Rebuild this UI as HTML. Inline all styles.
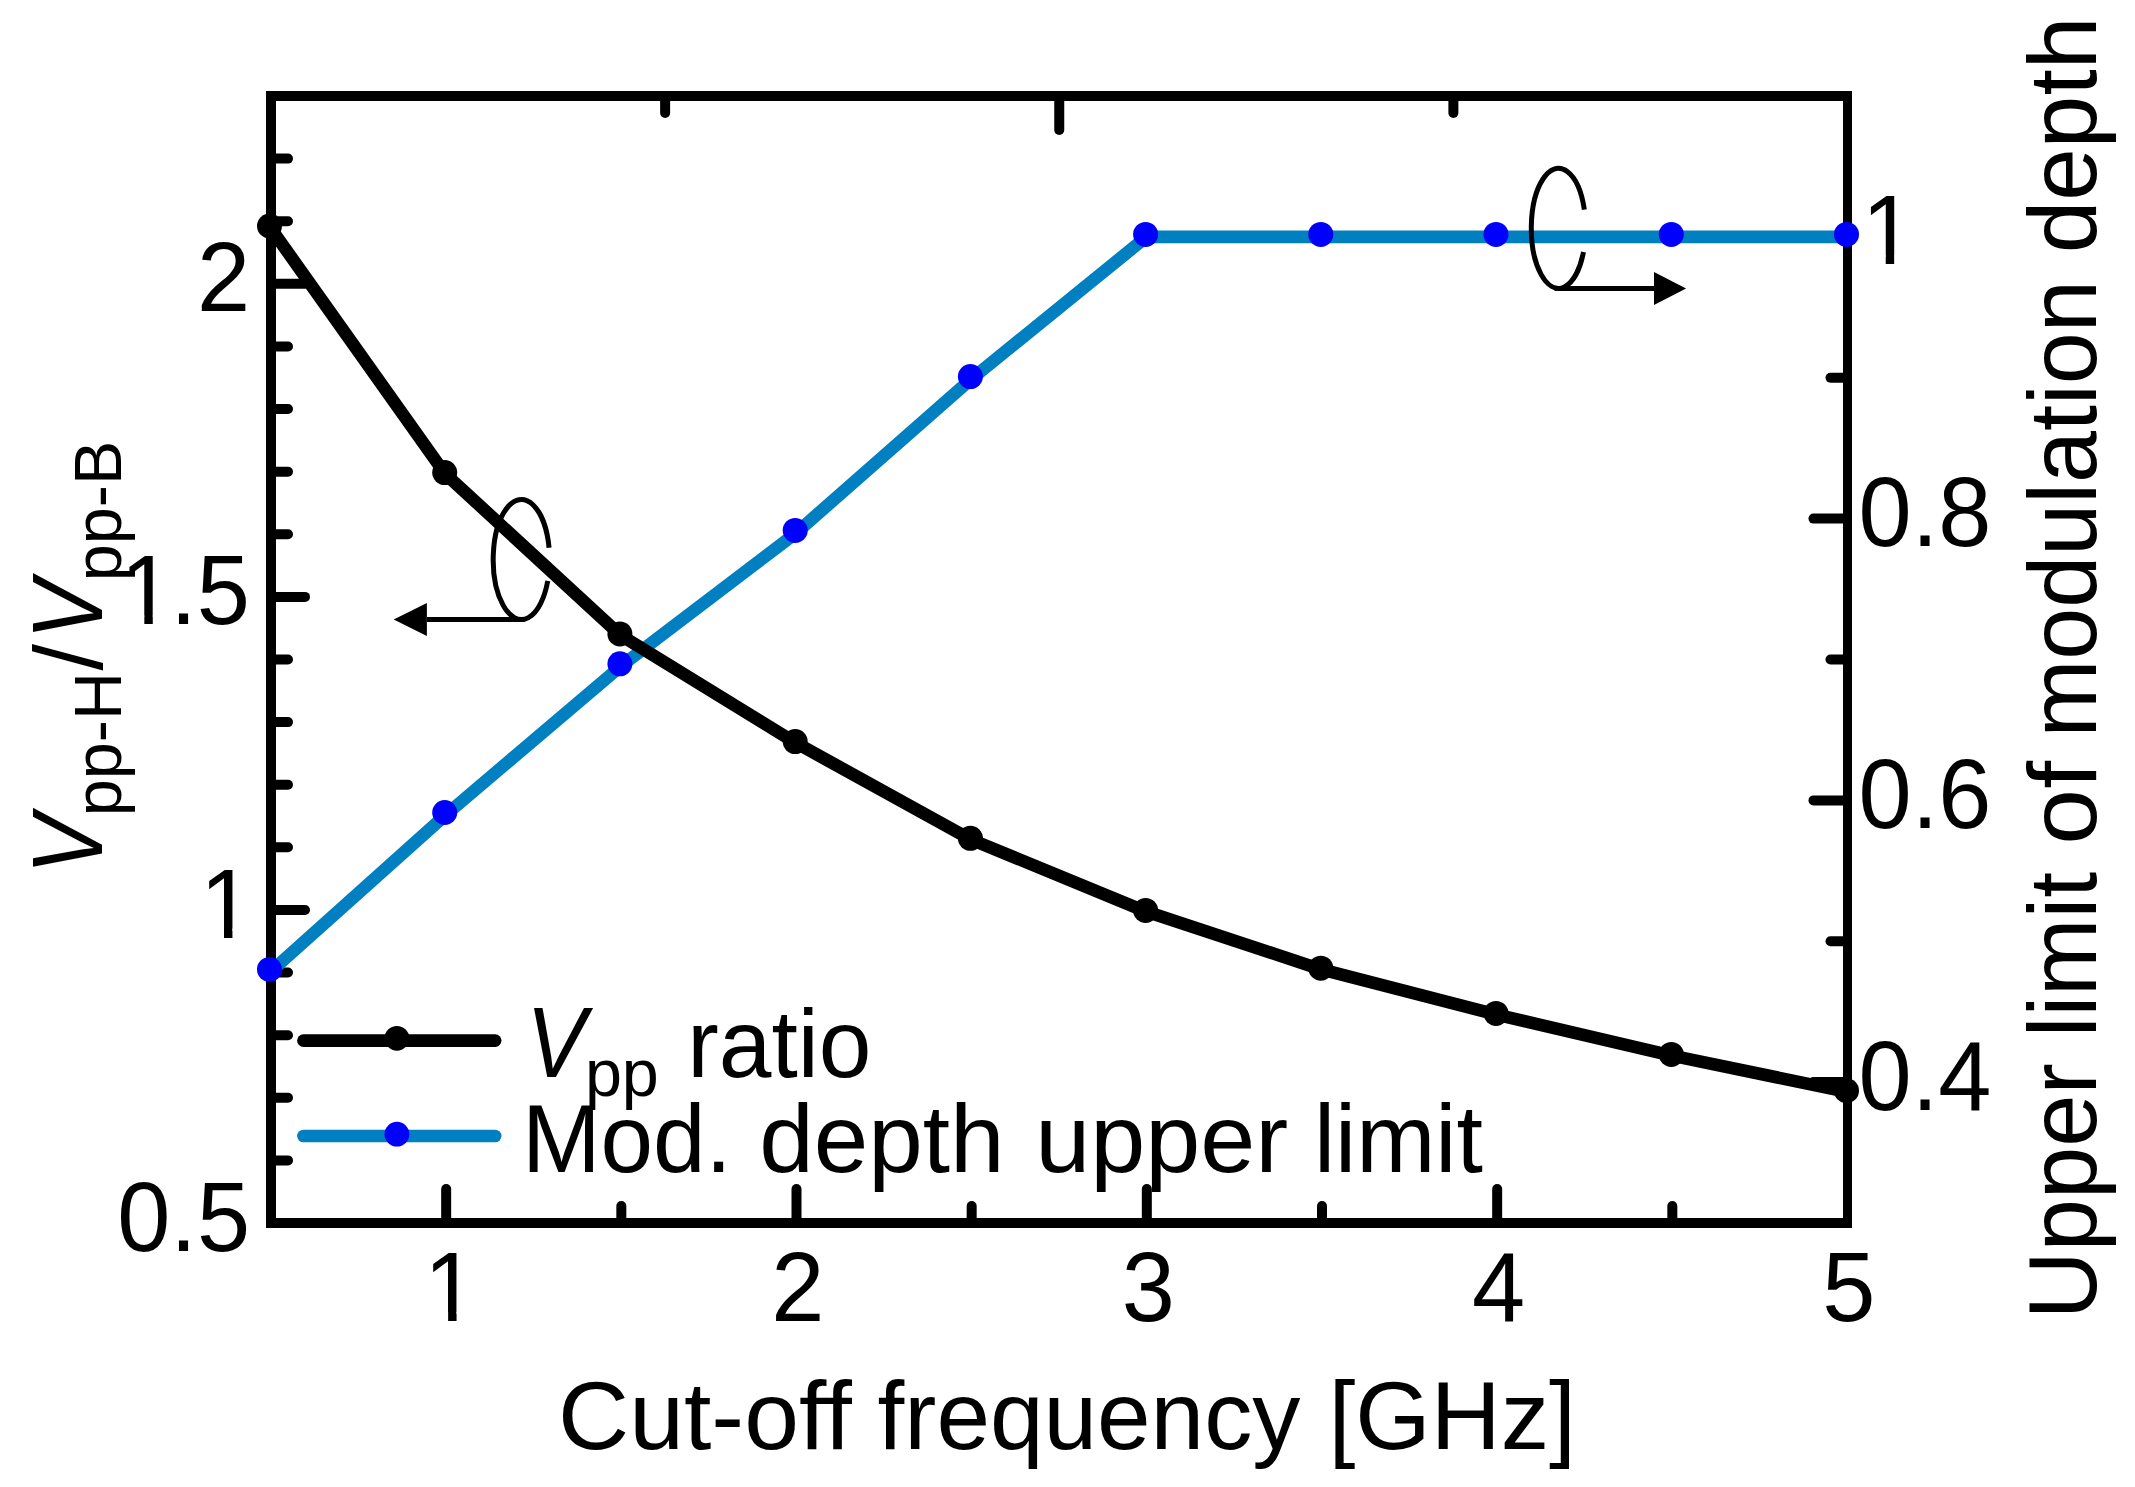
<!DOCTYPE html>
<html lang="en"><head><meta charset="utf-8"><title>Cut-off frequency chart</title>
<style>html,body{margin:0;padding:0;background:#fff;}body{width:2135px;height:1487px;overflow:hidden;}svg{display:block;}text{font-family:"Liberation Sans",Arial,Helvetica,sans-serif;fill:#000;}.i{font-style:italic;}</style>
</head><body>
<svg width="2135" height="1487" viewBox="0 0 2135 1487">
<rect x="0" y="0" width="2135" height="1487" fill="#ffffff"/>
<g stroke="#000" stroke-width="10" fill="none" stroke-linecap="round" stroke-linejoin="miter">
<g stroke-linecap="butt">
<line x1="271.00" y1="91.00" x2="271.00" y2="1228.00"/>
<line x1="266.00" y1="96.00" x2="1852.00" y2="96.00"/>
<line x1="266.00" y1="1223.00" x2="1852.00" y2="1223.00"/>
<line x1="1847.50" y1="91.00" x2="1847.50" y2="1228.00" stroke-width="9"/>
</g>
<line x1="272.00" y1="1160.39" x2="288.00" y2="1160.39"/>
<line x1="272.00" y1="1097.78" x2="288.00" y2="1097.78"/>
<line x1="272.00" y1="1035.17" x2="288.00" y2="1035.17"/>
<line x1="272.00" y1="972.56" x2="288.00" y2="972.56"/>
<line x1="272.00" y1="909.94" x2="305.00" y2="909.94"/>
<line x1="272.00" y1="847.33" x2="288.00" y2="847.33"/>
<line x1="272.00" y1="784.72" x2="288.00" y2="784.72"/>
<line x1="272.00" y1="722.11" x2="288.00" y2="722.11"/>
<line x1="272.00" y1="659.50" x2="288.00" y2="659.50"/>
<line x1="272.00" y1="596.89" x2="305.00" y2="596.89"/>
<line x1="272.00" y1="534.28" x2="288.00" y2="534.28"/>
<line x1="272.00" y1="471.67" x2="288.00" y2="471.67"/>
<line x1="272.00" y1="409.06" x2="288.00" y2="409.06"/>
<line x1="272.00" y1="346.44" x2="288.00" y2="346.44"/>
<line x1="272.00" y1="283.83" x2="305.00" y2="283.83"/>
<line x1="272.00" y1="221.22" x2="288.00" y2="221.22"/>
<line x1="272.00" y1="158.61" x2="288.00" y2="158.61"/>
<line x1="1846.50" y1="1082.12" x2="1813.50" y2="1082.12"/>
<line x1="1846.50" y1="941.25" x2="1830.50" y2="941.25"/>
<line x1="1846.50" y1="800.38" x2="1813.50" y2="800.38"/>
<line x1="1846.50" y1="659.50" x2="1830.50" y2="659.50"/>
<line x1="1846.50" y1="518.62" x2="1813.50" y2="518.62"/>
<line x1="1846.50" y1="377.75" x2="1830.50" y2="377.75"/>
<line x1="1846.50" y1="236.88" x2="1813.50" y2="236.88"/>
<line x1="446.17" y1="1222.00" x2="446.17" y2="1189.00"/>
<line x1="621.33" y1="1222.00" x2="621.33" y2="1206.00"/>
<line x1="796.50" y1="1222.00" x2="796.50" y2="1189.00"/>
<line x1="971.67" y1="1222.00" x2="971.67" y2="1206.00"/>
<line x1="1146.83" y1="1222.00" x2="1146.83" y2="1189.00"/>
<line x1="1322.00" y1="1222.00" x2="1322.00" y2="1206.00"/>
<line x1="1497.17" y1="1222.00" x2="1497.17" y2="1189.00"/>
<line x1="1672.33" y1="1222.00" x2="1672.33" y2="1206.00"/>
<line x1="665.12" y1="97.00" x2="665.12" y2="113.00"/>
<line x1="1059.25" y1="97.00" x2="1059.25" y2="130.00"/>
<line x1="1453.38" y1="97.00" x2="1453.38" y2="113.00"/>
</g>
<polyline points="270.4,971.9 445.6,815.0 620.8,666.3 796.1,532.9 971.3,379.1 1146.5,236.9 1321.7,236.9 1496.9,236.9 1672.2,236.9 1847.4,236.9" fill="none" stroke="#0080c0" stroke-width="12.6" stroke-linejoin="round" stroke-linecap="butt"/>
<polyline points="270.0,227.2 445.2,473.8 620.4,635.1 795.7,742.8 970.9,839.5 1146.1,911.6 1321.3,969.4 1496.5,1014.6 1671.8,1055.6 1847.0,1091.9" fill="none" stroke="#000" stroke-width="12.6" stroke-linejoin="round" stroke-linecap="butt"/>
<g fill="#0000ff"><circle cx="269.5" cy="969.4" r="12.5"/><circle cx="444.7" cy="812.5" r="12.5"/><circle cx="619.9" cy="663.8" r="12.5"/><circle cx="795.2" cy="530.4" r="12.5"/><circle cx="970.4" cy="376.6" r="12.5"/><circle cx="1145.6" cy="234.4" r="12.5"/><circle cx="1320.8" cy="234.4" r="12.5"/><circle cx="1496.0" cy="234.4" r="12.5"/><circle cx="1671.3" cy="234.4" r="12.5"/><circle cx="1846.5" cy="234.4" r="12.5"/></g>
<g fill="#000"><circle cx="269.5" cy="226.0" r="12.5"/><circle cx="444.7" cy="472.6" r="12.5"/><circle cx="619.9" cy="633.9" r="12.5"/><circle cx="795.2" cy="741.6" r="12.5"/><circle cx="970.4" cy="838.3" r="12.5"/><circle cx="1145.6" cy="910.4" r="12.5"/><circle cx="1320.8" cy="968.2" r="12.5"/><circle cx="1496.0" cy="1013.4" r="12.5"/><circle cx="1671.3" cy="1054.4" r="12.5"/><circle cx="1846.5" cy="1090.7" r="12.5"/></g>
<line x1="303.4" y1="1040.6" x2="495.2" y2="1040.6" stroke="#000" stroke-width="12.6" stroke-linecap="round"/>
<circle cx="396.9" cy="1038.3" r="12.4" fill="#000"/>
<line x1="303.4" y1="1136" x2="495.2" y2="1136" stroke="#0080c0" stroke-width="12.6" stroke-linecap="round"/>
<circle cx="396.9" cy="1134.2" r="12.4" fill="#0000ff"/>
<g stroke="#000" stroke-width="5" fill="none" stroke-linecap="butt">
<path d="M549.06 547.80 A28.20 60.00 0 1 0 547.75 580.90"/>
<line x1="524.7" y1="619.6" x2="426.9" y2="619.6"/>
<path d="M1584.35 209.60 A27.20 60.00 0 1 0 1583.49 252.00"/>
<line x1="1554.5" y1="288.4" x2="1654" y2="288.4"/>
</g>
<polygon points="393.7,619.5 426.9,603 426.9,636" fill="#000"/>
<polygon points="1686.1,288.4 1654,272 1654,304.9" fill="#000"/>
<g font-size="95.5">
<text transform="translate(250.00,1250.60) scale(1,1.038)" text-anchor="end">0.5</text>
<text transform="translate(199.99,937.54) scale(1,1.038)">1</text>
<rect x="205.76" y="928.54" width="18.24" height="10.41" fill="#fff"/><rect x="232.44" y="928.54" width="17.49" height="10.41" fill="#fff"/>
<text transform="translate(117.22,624.49) scale(1,1.038)"><tspan dx="3.1">1</tspan><tspan dx="-3.1">.5</tspan></text>
<rect x="126.09" y="615.48" width="18.24" height="10.41" fill="#fff"/><rect x="152.77" y="615.48" width="17.49" height="10.41" fill="#fff"/>
<text transform="translate(250.00,311.43) scale(1,1.038)" text-anchor="end">2</text>
<text transform="translate(1861.70,264.28) scale(1,1.038)">1</text>
<rect x="1867.47" y="255.27" width="18.24" height="10.41" fill="#fff"/><rect x="1894.16" y="255.27" width="17.49" height="10.41" fill="#fff"/>
<text transform="translate(1858.60,546.02) scale(1,1.038)">0.8</text>
<text transform="translate(1858.60,827.77) scale(1,1.038)">0.6</text>
<text transform="translate(1858.60,1109.53) scale(1,1.038)">0.4</text>
<text transform="translate(424.11,1321.00) scale(1,1.038)">1</text>
<rect x="429.88" y="1311.99" width="18.24" height="10.41" fill="#fff"/><rect x="456.57" y="1311.99" width="17.49" height="10.41" fill="#fff"/>
<text transform="translate(771.34,1321.00) scale(1,1.038)">2</text>
<text transform="translate(1121.68,1321.00) scale(1,1.038)">3</text>
<text transform="translate(1472.01,1321.00) scale(1,1.038)">4</text>
<text transform="translate(1822.34,1321.00) scale(1,1.038)">5</text>
<text id="xl1" x="558.04" y="1448.5" textLength="293.91" lengthAdjust="spacingAndGlyphs">Cut-off</text>
<text id="xl2" x="877.57" y="1448.5" textLength="422.90" lengthAdjust="spacingAndGlyphs">frequency</text>
<text id="xl3" x="1328.42" y="1448.5" textLength="247.65" lengthAdjust="spacingAndGlyphs">[GHz]</text>
<text id="lg1" x="521.90" y="1172.0" textLength="209.93" lengthAdjust="spacingAndGlyphs">Mod.</text>
<text id="lg2" x="759.35" y="1172.0" textLength="245.20" lengthAdjust="spacingAndGlyphs">depth</text>
<text id="lg3" x="1035.20" y="1172.0" textLength="253.10" lengthAdjust="spacingAndGlyphs">upper</text>
<text id="lg4" x="1313.94" y="1172.0" textLength="168.98" lengthAdjust="spacingAndGlyphs">limit</text>
<text id="lgr" x="687.29" y="1077.2" textLength="184.10" lengthAdjust="spacingAndGlyphs">ratio</text>
<text class="i" transform="translate(526.24,1077.2) scale(0.940,1.043)">V</text>
<text x="584.9" y="1095.6" font-size="66.5">pp</text>
<g transform="translate(2096,0) rotate(-90)"><text id="rl1" x="-1319.24" y="0.0" textLength="256.00" lengthAdjust="spacingAndGlyphs">Upper</text><text id="rl2" x="-1037.23" y="0.0" textLength="165.27" lengthAdjust="spacingAndGlyphs">limit</text><text id="rl3" x="-844.65" y="0.0" textLength="83.71" lengthAdjust="spacingAndGlyphs">of</text><text id="rl4" x="-737.59" y="0.0" textLength="457.35" lengthAdjust="spacingAndGlyphs">modulation</text><text id="rl5" x="-253.25" y="0.0" textLength="236.43" lengthAdjust="spacingAndGlyphs">depth</text></g>
<g transform="translate(101.8,0) rotate(-90)">
<text class="i" transform="translate(-874.56,0) scale(0.940,1.043)">V</text>
<text x="-816.2" y="19.2" font-size="66.5">pp-H</text>
<text x="-670.6" y="0">/</text>
<text class="i" transform="translate(-639.66,0) scale(0.940,1.043)">V</text>
<text x="-581.2" y="19.2" font-size="66.5">pp-B</text>
</g>
</g>
</svg>
</body></html>
